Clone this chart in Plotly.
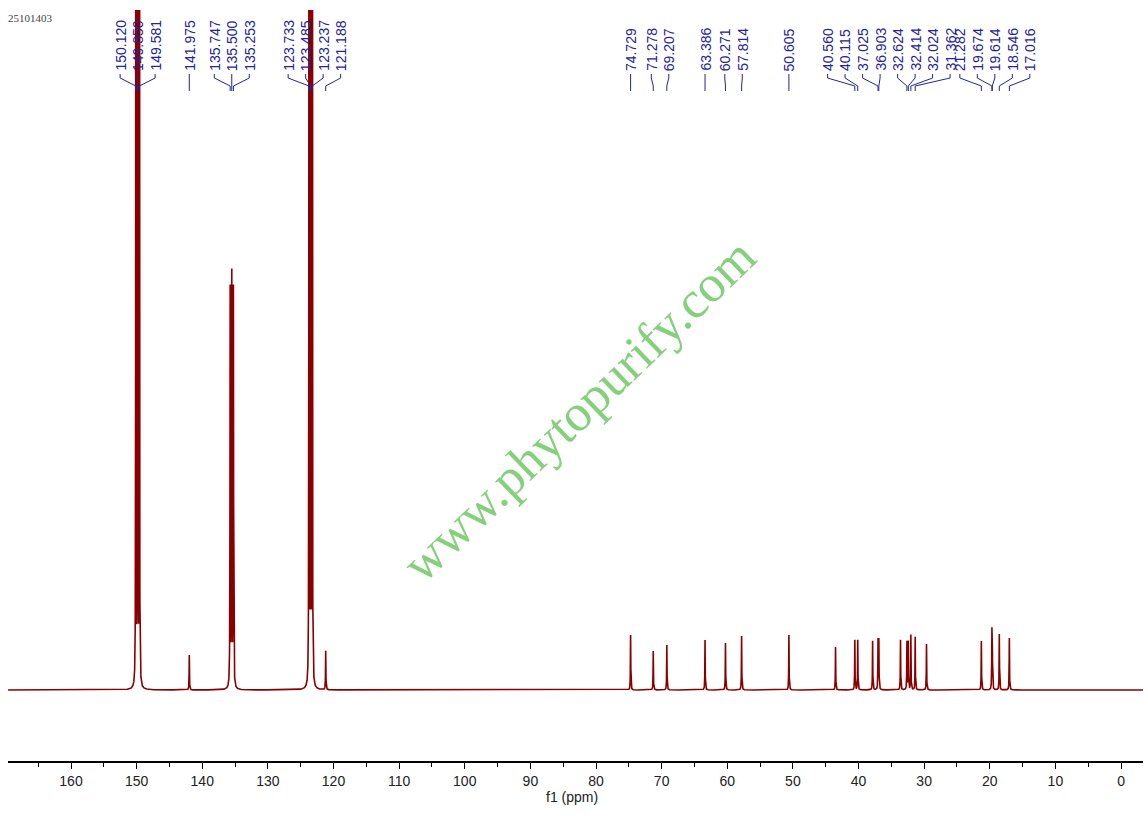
import numpy as np
import plotly.graph_objects as go

# ---------------- data ----------------
# peaks of the 13C spectrum (ppm) and their heights (arbitrary intensity units)
peak_ppm = [150.120, 149.850, 149.581, 141.975, 135.747, 135.500, 135.253,
            123.733, 123.485, 123.237, 121.188,
            74.729, 71.278, 69.207, 63.386, 60.271, 57.814, 50.605,
            43.50, 40.560, 40.115, 37.85, 37.025, 36.903, 33.60,
            32.624, 32.414, 32.024, 31.362, 29.64,
            21.282, 19.674, 19.614, 18.546, 17.016]
peak_height = [1400, 1500, 1400, 35, 398, 410, 398,
               1500, 1500, 1500, 39,
               55, 39, 45, 50, 47, 54, 55,
               43, 50, 50, 49, 49, 49, 50,
               48, 48, 55, 53, 46,
               49, 52, 52, 56, 52]

# peak-pick labels shown at the top
label_ppm = [150.120, 149.850, 149.581, 141.975, 135.747, 135.500, 135.253,
             123.733, 123.485, 123.237, 121.188,
             74.729, 71.278, 69.207, 63.386, 60.271, 57.814, 50.605,
             40.560, 40.115, 37.025, 36.903, 32.624, 32.414, 32.024, 31.362,
             21.282, 19.674, 19.614, 18.546, 17.016]

x_ticks = list(range(0, 170, 10))
sample_id = "25101403"
watermark = "www.phytopurify.com"
x_title = "f1 (ppm)"

# ---------------- layout constants ----------------
FIG_W, FIG_H = 1148, 817
ML, MR, MT, MB = 8, 5, 10, 56
PLOT_W = FIG_W - ML - MR
PLOT_H = FIG_H - MT - MB
X_LEFT, X_RIGHT = 169.6, -3.35
Y_LOW, Y_HIGH = -71, 680
PX_PER_PPM = PLOT_W / (X_LEFT - X_RIGHT)

RED = "#880000"
NAVY = "#23239c"


def paper_y(py):
    """pixel row (from top of figure) -> paper y"""
    return (FIG_H - MB - py) / PLOT_H


# ---------------- spectrum line ----------------
grid = np.arange(X_RIGHT, X_LEFT, 0.01)
xs = np.sort(np.concatenate([grid, np.array(peak_ppm)]))[::-1]
ys = np.zeros_like(xs)
for p, h in zip(peak_ppm, peak_height):
    w = 0.02 if h > 1000 else 0.03
    ys += h * w * w / (w * w + (xs - p) ** 2)

fig = go.Figure()
fig.add_trace(go.Scatter(x=xs, y=ys, mode="lines",
                         line=dict(color=RED, width=1.6),
                         hoverinfo="skip", showlegend=False))


# ---------------- label spreading ----------------
def spread(ppms, gap):
    order = sorted(range(len(ppms)), key=lambda i: -ppms[i])
    pos = {}
    clusters = []
    for i in order:
        p = ppms[i]
        if clusters and (pos[clusters[-1][-1]] - p) < gap:
            c = clusters[-1]
            c.append(i)
            center = sum(ppms[j] for j in c) / len(c)
            k = len(c)
            for m, j in enumerate(c):
                pos[j] = center + ((k - 1) / 2 - m) * gap
        else:
            clusters.append([i])
            pos[i] = p
    return [pos[i] for i in range(len(ppms))]


gap_ppm = 17.5 / PX_PER_PPM
lab_pos = spread(label_ppm, gap_ppm)

annotations = []
shapes = []
y_text = paper_y(73)
y_a, y_b, y_c, y_d = paper_y(74), paper_y(78), paper_y(86), paper_y(91)
for v, lp in zip(label_ppm, lab_pos):
    annotations.append(dict(
        x=lp, xref="x", y=y_text, yref="paper", text=f"{v:.3f}",
        textangle=-90, xanchor="center", yanchor="bottom", showarrow=False,
        font=dict(family="Arial, Liberation Sans, sans-serif", size=14, color=NAVY)))
    path = f"M {lp},{y_a} L {lp},{y_b} L {v},{y_c} L {v},{y_d}"
    shapes.append(dict(type="path", path=path, xref="x", yref="paper",
                       line=dict(color=NAVY, width=1)))

# sample id, watermark, axis title
annotations.append(dict(
    x=(6 - ML) / PLOT_W, xref="paper", y=paper_y(18), yref="paper",
    text=sample_id, showarrow=False, xanchor="left", yanchor="middle",
    font=dict(family="Liberation Serif, DejaVu Serif, serif", size=11, color="#444444")))
annotations.append(dict(
    x=(578 - ML) / PLOT_W, xref="paper", y=paper_y(410), yref="paper",
    text=watermark, showarrow=False, textangle=-44,
    xanchor="center", yanchor="middle",
    font=dict(family="Liberation Serif, Times New Roman, serif", size=52,
              color="rgba(110,200,100,0.85)")))
annotations.append(dict(
    x=(572 - ML) / PLOT_W, xref="paper", y=paper_y(797), yref="paper",
    text=x_title, showarrow=False, xanchor="center", yanchor="middle",
    font=dict(family="Arial, Liberation Sans, sans-serif", size=14, color="#222222")))

fig.update_layout(
    width=FIG_W, height=FIG_H,
    margin=dict(l=ML, r=MR, t=MT, b=MB, pad=0),
    paper_bgcolor="white", plot_bgcolor="white",
    showlegend=False,
    xaxis=dict(range=[X_LEFT, X_RIGHT], tickmode="array", tickvals=x_ticks,
               ticktext=[str(t) for t in x_ticks],
               ticks="outside", ticklen=6, tickwidth=1, tickcolor="black",
               minor=dict(dtick=5, tick0=0, ticks="outside", ticklen=4,
                          tickcolor="black", tickwidth=1),
               showline=True, linecolor="black", linewidth=1.5,
               showgrid=False, zeroline=False,
               tickfont=dict(family="Arial, Liberation Sans, sans-serif", size=14,
                             color="#222222")),
    yaxis=dict(range=[Y_LOW, Y_HIGH], visible=False, showgrid=False, zeroline=False),
    annotations=annotations,
    shapes=shapes,
)

fig.write_html("out.html",
               config={"displayModeBar": False},
               post_script="document.body.style.margin='0';document.body.style.overflow='hidden';")
